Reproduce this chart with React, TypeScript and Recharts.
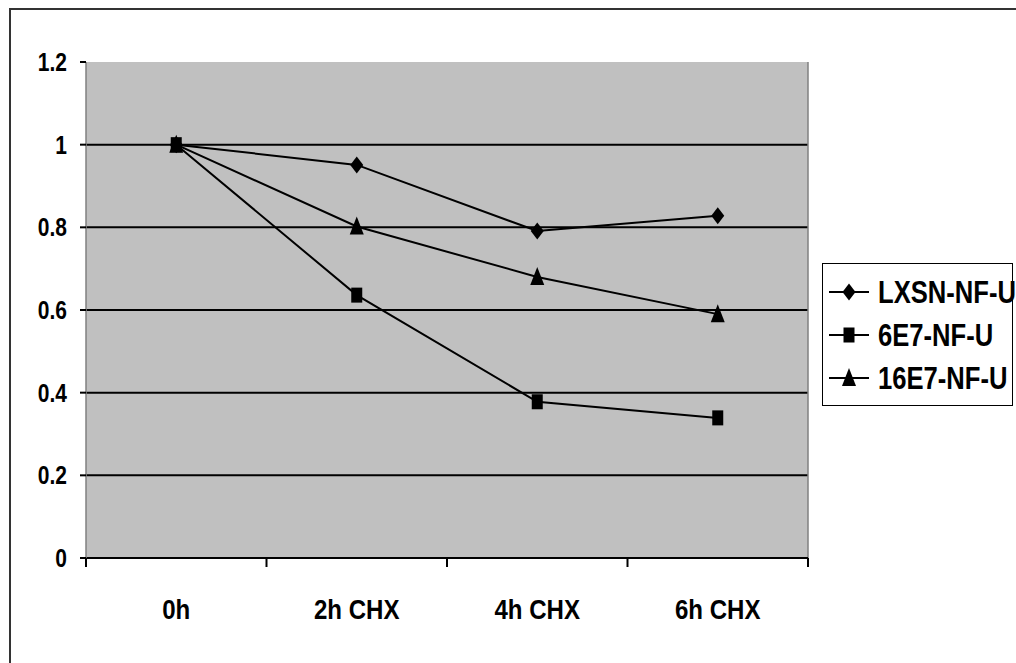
import { LineChart, Line, XAxis, YAxis, CartesianGrid, Legend, ReferenceLine } from "recharts";

const categories = ["0h", "2h CHX", "4h CHX", "6h CHX"];
const lxsnValues = [1, 0.951, 0.791, 0.828];
const e6Values = [1, 0.636, 0.378, 0.339];
const e16Values = [1, 0.802, 0.68, 0.59];
const yTicks = [0, 0.2, 0.4, 0.6, 0.8, 1, 1.2];
const gridValues = [0.2, 0.4, 0.6, 0.8, 1];

// no Arial Narrow available, so squeeze Liberation Sans horizontally
const FONT = "'Liberation Sans', Arial, sans-serif";

const data = categories.map((name, i) => ({
  name,
  x: i + 0.5,
  lxsn: lxsnValues[i],
  e6: e6Values[i],
  e16: e16Values[i],
}));

// x ticks: whole numbers get a tick mark (band edges), halves get the label
const xTicks = [0, 0.5, 1, 1.5, 2, 2.5, 3, 3.5, 4];

function Diamond({ cx, cy }: any) {
  return <path d={`M${cx},${cy - 8.5}L${cx + 6.5},${cy}L${cx},${cy + 8.5}L${cx - 6.5},${cy}Z`} fill="#000" />;
}
function Square({ cx, cy }: any) {
  return <rect x={cx - 5.5} y={cy - 7.5} width={11} height={15} fill="#000" />;
}
function Triangle({ cx, cy }: any) {
  return <path d={`M${cx},${cy - 10}L${cx + 7},${cy + 8}L${cx - 7},${cy + 8}Z`} fill="#000" />;
}

const series = [
  { key: "lxsn", name: "LXSN-NF-U", Shape: Diamond },
  { key: "e6", name: "6E7-NF-U", Shape: Square },
  { key: "e16", name: "16E7-NF-U", Shape: Triangle },
];

function XTick({ x, y, payload }: any) {
  const v = payload.value;
  if (Number.isInteger(v)) {
    return <line x1={x} x2={x} y1={y} y2={y + 9} stroke="#000" strokeWidth={2} />;
  }
  return (
    <text
      transform={`translate(${x},${y + 61}) scale(0.86,1)`}
      textAnchor="middle"
      fontFamily={FONT}
      fontWeight="bold"
      fontSize={28}
      fill="#000"
    >
      {categories[Math.floor(v)]}
    </text>
  );
}

function YTick({ x, y, payload }: any) {
  return (
    <text
      transform={`translate(${x},${y + 9}) scale(0.84,1)`}
      textAnchor="end"
      fontFamily={FONT}
      fontWeight="bold"
      fontSize={25}
      fill="#000"
    >
      {String(payload.value)}
    </text>
  );
}

function LegendBox() {
  return (
    <div
      style={{
        border: "1.5px solid #000",
        background: "#fff",
        width: 189,
        padding: "6px 0 6px 0",
        boxSizing: "content-box",
      }}
    >
      {series.map(({ name, Shape }) => (
        <div key={name} style={{ display: "flex", alignItems: "center", height: 43, whiteSpace: "nowrap" }}>
          <svg width={40} height={24} style={{ marginLeft: 6, marginRight: 9, flexShrink: 0 }}>
            <line x1={0} x2={40} y1={12} y2={12} stroke="#000" strokeWidth={2} />
            <Shape cx={20} cy={12} />
          </svg>
          <span
            style={{
              display: "inline-block",
              fontFamily: FONT,
              fontWeight: "bold",
              fontSize: 32,
              color: "#000",
              lineHeight: 1,
              transform: "scaleX(0.8)",
              transformOrigin: "left center",
            }}
          >
            {name}
          </span>
        </div>
      ))}
    </div>
  );
}

export default function App() {
  return (
    <div style={{ position: "absolute", left: 0, top: 0, width: 1016, height: 663, overflow: "hidden", background: "#fff" }}>
      <div
        style={{
          position: "absolute",
          left: 9,
          top: 8,
          width: 1030,
          height: 700,
          border: "2px solid #333",
        }}
      />
      <div style={{ position: "absolute", left: 0, top: 0 }}>
        <LineChart width={1016} height={663} data={data} margin={{ top: 62, right: 208, bottom: 0, left: 0 }}>
          <CartesianGrid fill="#c0c0c0" horizontal={false} vertical={false} />
          {gridValues.map((v) => (
            <ReferenceLine key={v} y={v} stroke="#000" strokeWidth={2} />
          ))}
          <ReferenceLine x={4} stroke="#808080" strokeWidth={1.5} />
          <XAxis
            type="number"
            dataKey="x"
            domain={[0, 4]}
            ticks={xTicks}
            interval={0}
            height={105}
            tickLine={false}
            tickSize={0}
            tickMargin={0}
            axisLine={{ stroke: "#000", strokeWidth: 2 }}
            tick={<XTick />}
          />
          <YAxis
            type="number"
            domain={[0, 1.2]}
            ticks={yTicks}
            interval={0}
            width={86}
            tickSize={6}
            tickMargin={13}
            tickLine={{ stroke: "#000", strokeWidth: 2 }}
            axisLine={{ stroke: "#808080", strokeWidth: 1.5 }}
            tick={<YTick />}
          />
          <Legend
            layout="vertical"
            align="center"
            verticalAlign="middle"
            wrapperStyle={{ left: 822, top: 263, width: 192 }}
            content={() => <LegendBox />}
          />
          {series.map(({ key, name, Shape }) => (
            <Line
              key={key}
              type="linear"
              dataKey={key}
              name={name}
              stroke="#000"
              strokeWidth={2}
              dot={(p: any) => <Shape key={`${key}-${p.index}`} cx={p.cx} cy={p.cy} />}
              activeDot={false}
              isAnimationActive={false}
            />
          ))}
        </LineChart>
      </div>
    </div>
  );
}
